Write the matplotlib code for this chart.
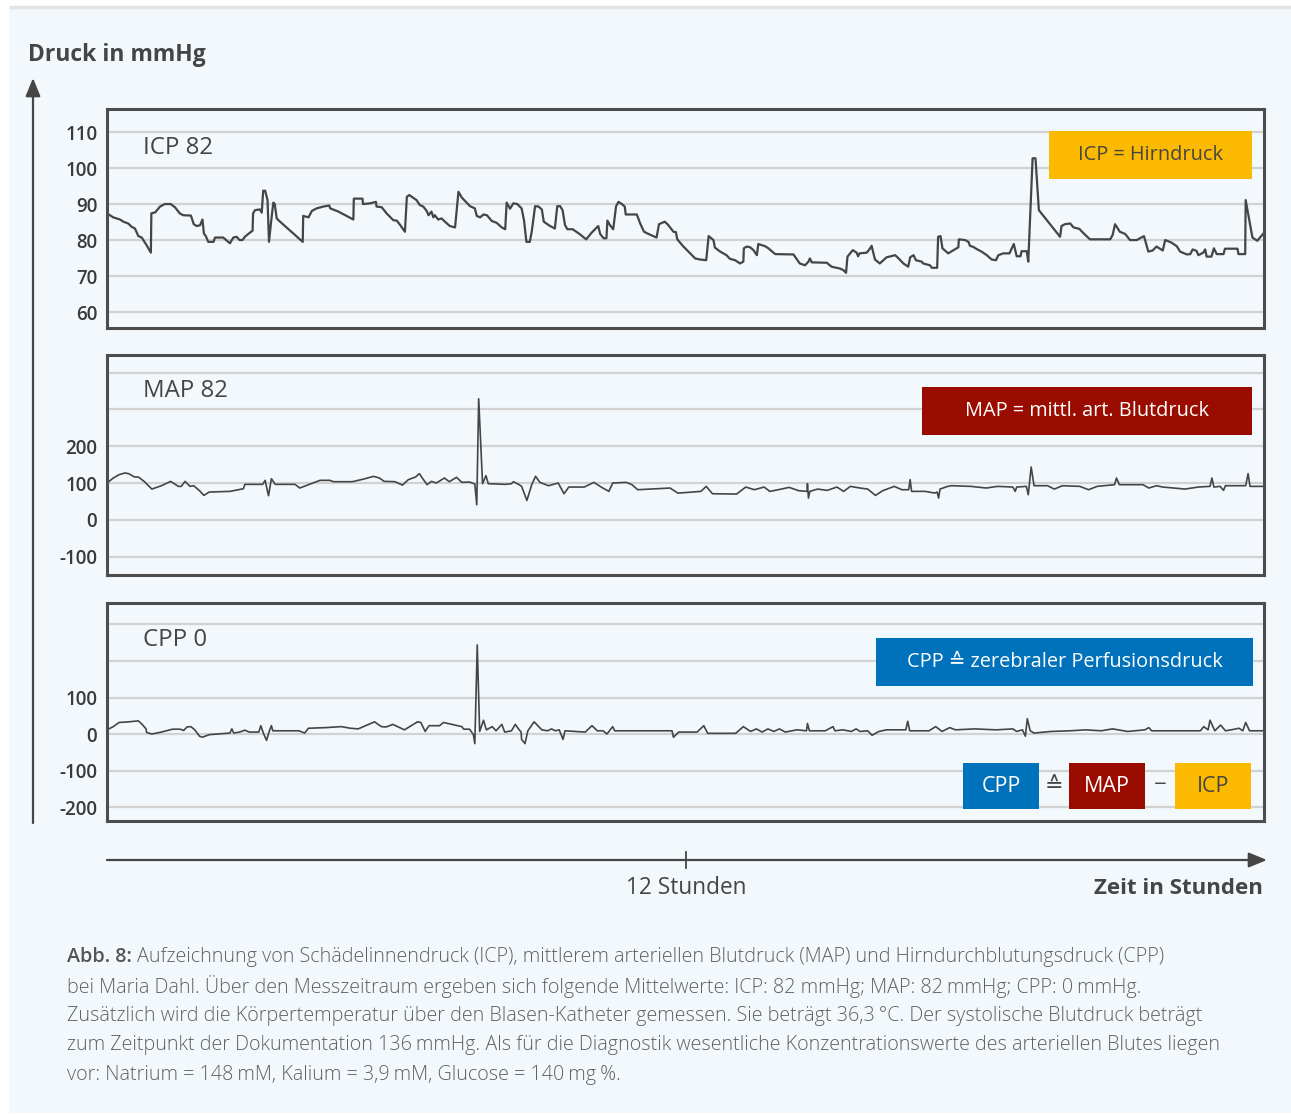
import matplotlib
matplotlib.use('Agg')
import matplotlib.pyplot as plt
from matplotlib.patches import Rectangle

plt.rcParams['font.family'] = ['Open Sans', 'DejaVu Sans']

W, H = 1291, 1115

# time axis in hours (0..24), pressures in mmHg
icp_t = [0.00, 0.13, 0.27, 0.34, 0.44, 0.51, 0.58, 0.65, 0.72, 0.82, 0.91, 0.92, 1.00, 1.10, 1.20, 1.32, 1.41, 1.51,
         1.58, 1.74, 1.80, 1.86, 1.93, 1.98, 2.01, 2.05, 2.10, 2.21, 2.24, 2.41, 2.55, 2.62, 2.69, 2.75, 2.81, 2.86,
         2.93, 3.02, 3.03, 3.07, 3.17, 3.21, 3.24, 3.28, 3.33, 3.36, 3.40, 3.45, 3.48, 3.52, 3.59, 4.06, 4.07, 4.18,
         4.25, 4.35, 4.49, 4.61, 4.63, 4.80, 4.97, 5.11, 5.12, 5.30, 5.31, 5.46, 5.58, 5.59, 5.70, 5.80, 5.94, 6.01,
         6.08, 6.18, 6.22, 6.27, 6.42, 6.49, 6.56, 6.63, 6.67, 6.73, 6.77, 6.80, 6.87, 6.94, 7.01, 7.11, 7.22, 7.29,
         7.36, 7.46, 7.53, 7.63, 7.67, 7.74,
         7.81, 7.88, 7.98, 8.08, 8.19, 8.26, 8.29, 8.36, 8.43, 8.51, 8.60, 8.65, 8.70, 8.77, 8.81, 8.88, 8.95, 9.02,
         9.06, 9.19, 9.29, 9.34, 9.40, 9.45, 9.50, 9.55, 9.66, 9.80, 9.94, 10.05, 10.19, 10.23, 10.30, 10.36, 10.38,
         10.43, 10.50, 10.56, 10.61, 10.68, 10.74, 10.76, 10.99, 11.06, 11.14, 11.23, 11.40, 11.45, 11.57, 11.64,
         11.75, 11.80, 11.83, 11.95, 12.06, 12.20, 12.30, 12.43, 12.48, 12.58, 12.61, 12.72, 12.85, 12.92, 13.03,
         13.13, 13.20, 13.21, 13.27, 13.34, 13.41, 13.48, 13.51, 13.65, 13.72, 13.86, 14.24, 14.37, 14.48, 14.55,
         14.58, 14.62, 14.93, 15.03, 15.20, 15.27, 15.33, 15.36, 15.47, 15.55, 15.58, 15.61,
         15.76, 15.83, 15.86, 15.93, 16.03, 16.17, 16.35, 16.42, 16.52, 16.62, 16.66, 16.73, 16.78, 16.90, 16.93,
         17.07, 17.11, 17.22, 17.24, 17.29, 17.33, 17.45, 17.56, 17.66, 17.67, 17.80, 17.87, 17.90, 17.97, 18.04,
         18.14, 18.25, 18.35, 18.44, 18.49, 18.59, 18.72, 18.81, 18.87, 18.95, 18.97, 19.08, 19.11, 19.20, 19.26,
         19.33, 19.77, 19.80, 19.87, 19.98, 20.05, 20.17, 20.27, 20.39, 20.81, 20.86, 20.91, 21.01, 21.12, 21.22,
         21.36, 21.51, 21.60, 21.69, 21.77, 21.90, 21.95, 22.08, 22.19, 22.26, 22.40, 22.47, 22.52, 22.60, 22.64,
         22.74, 22.78, 22.81, 22.91, 22.96, 23.02, 23.16, 23.19, 23.45, 23.47, 23.61, 23.62, 23.67, 23.76, 23.86,
         24.00]
icp_v = [87.5, 86.4, 85.8, 85.2, 84.7, 83.8, 83.3, 81.2, 80.8, 78.7, 76.6, 87.5, 87.8, 89.4, 90.1, 90.1, 89.2, 87.5,
         87.0, 86.9, 84.5, 84.0, 84.2, 85.8, 81.9, 81.2, 79.6, 79.6, 80.8, 80.8, 79.2, 80.8, 81.0, 80.1, 80.1, 81.0,
         81.8, 82.7, 87.5, 88.4, 88.6, 87.7, 93.8, 93.8, 91.2, 79.6, 84.7, 90.5, 90.1, 86.1, 85.2, 79.6, 86.8, 86.4,
         88.2, 88.9, 89.4, 89.7, 88.9, 88.0, 86.8, 85.8, 91.6, 91.6, 90.1, 90.3, 90.7, 89.4, 89.2, 87.5, 85.6, 85.5,
         84.3, 82.4, 92.1, 92.6, 91.2, 89.8, 89.4, 88.2, 87.0, 88.0, 86.4, 87.0, 85.8, 86.1, 85.2, 84.0, 83.6, 93.5,
         91.9, 90.5, 89.5, 88.9, 86.8, 86.4,
         87.2, 87.0, 85.4, 84.9, 83.6, 83.1, 90.5, 88.8, 90.3, 90.1, 88.9, 85.6, 79.6, 79.6, 82.4, 89.5, 89.4, 88.6,
         85.2, 84.0, 83.3, 89.5, 89.5, 88.4, 84.3, 83.1, 83.1, 81.8, 80.3, 82.1, 84.0, 81.8, 80.6, 80.6, 85.5,
         84.3, 83.1, 89.5, 90.7, 90.1, 89.4, 87.2, 87.2, 84.7, 82.4, 81.8, 80.8, 84.5, 85.2, 84.3,
         82.4, 82.3, 80.3, 78.4, 76.9, 75.0, 74.7, 74.5, 81.2, 80.1, 78.0, 76.9, 75.9, 74.9, 74.5,
         73.6, 74.1, 77.8, 78.3, 78.1, 77.3, 75.9, 79.0, 78.4, 77.8, 76.2, 76.1, 73.6, 73.1, 74.1,
         75.0, 73.9, 73.8, 72.7, 72.2, 71.8, 71.0, 75.5, 77.3, 76.6, 75.6, 76.4,
         76.6, 77.8, 78.5, 74.7, 73.6, 75.3, 75.9, 75.0, 73.6, 72.7, 75.3, 75.9, 74.5, 74.1, 73.6,
         73.1, 72.4, 72.4, 81.0, 81.2, 77.8, 76.4, 77.3, 78.1, 80.3, 80.1, 79.6, 78.5, 78.2, 77.6,
         76.9, 75.9, 74.7, 74.5, 75.9, 76.4, 76.4, 79.0, 75.6, 75.6, 77.0, 77.0, 74.1, 102.8, 102.8,
         88.4, 81.0, 84.0, 84.5, 84.7, 83.6, 83.2, 81.8, 80.3, 80.3, 81.5, 84.5, 82.4, 81.8, 80.1,
         80.1, 81.2, 76.9, 77.2, 78.3, 77.2, 80.1, 79.4, 78.4, 76.9, 76.1, 76.2, 77.5, 77.1, 75.9,
         76.6, 77.5, 75.5, 75.5, 77.8, 76.2, 76.2, 77.7, 77.7, 76.2, 76.2, 91.2, 87.5, 80.8, 79.9,
         82.1]

map_t = [0.00, 0.13, 0.25, 0.37, 0.45, 0.57, 0.65, 0.77, 0.93, 1.13, 1.32, 1.48, 1.54, 1.62, 1.72, 1.80, 1.92, 2.01,
         2.12, 2.55, 2.83, 2.86, 3.23, 3.28, 3.35, 3.41, 3.49, 3.90, 4.00, 4.18, 4.42, 4.62, 4.70, 5.09, 5.33, 5.53,
         5.65, 5.75, 5.97, 6.13, 6.25, 6.40, 6.48, 6.54, 6.64, 6.73, 6.83, 7.00, 7.10, 7.25, 7.36, 7.52, 7.63, 7.67,
         7.71, 7.79, 7.86, 7.91, 8.27, 8.39, 8.43, 8.55, 8.60, 8.71, 8.81, 8.89, 8.98, 9.16, 9.36, 9.48, 9.58, 9.90,
         10.10, 10.25, 10.41, 10.49, 10.77, 10.89, 11.01, 11.68, 11.84,
         12.05, 12.32, 12.43, 12.56, 13.06, 13.25, 13.43, 13.63, 13.75, 13.99, 14.15, 14.35, 14.52, 14.53, 14.55,
         14.58, 14.74, 14.94, 15.14, 15.28, 15.42, 15.62, 15.78, 15.94, 16.09, 16.33, 16.49, 16.63, 16.66, 16.69,
         16.97, 17.17, 17.22, 17.25, 17.28, 17.44, 17.52, 17.92, 18.24, 18.47, 18.79, 18.84, 18.87, 19.07, 19.11,
         19.17, 19.23, 19.51, 19.65, 19.82, 20.18, 20.36, 20.54, 20.90, 20.94, 21.00, 21.49, 21.61, 21.77, 21.90,
         22.36, 22.64, 22.88, 22.92, 22.96, 23.09, 23.16, 23.20, 23.62, 23.67, 23.71, 24.00]
map_v = [100, 113.6, 122.7, 127.3, 125.5, 116.4, 116.4, 104.5, 83.6, 92.7, 104.5, 90.9, 90.9, 104.5, 90.9, 92.7, 79.1,
         66.4, 75.5, 77.3, 84.5, 96.4, 96.4, 107.3, 65.5, 111.8, 96.4, 96.4, 86.4, 95.5, 107.3, 107.3, 103.6, 103.6,
         110.9, 118.2, 113.6, 104.5, 103.6, 94.5, 109.1, 116.4, 125.5, 113.6, 95.5, 104.5, 100, 113.6, 103.6, 115.5,
         101.8, 102.7, 97.3, 40.9, 329.1, 98.2, 120, 98.2, 96.4, 98.2, 103.6, 95.5, 90.9, 52.7, 95.5, 118.2, 101.8,
         92.7, 100, 70.9, 89.1, 89.1, 101.8, 89.1, 77.3, 100, 101.8, 95.5, 81.8, 86.4, 72.7,
         74.5, 77.3, 90.9, 70.9, 70, 89.1, 81.8, 89.1, 77.3, 83.6, 88.2, 79.1, 77.3, 98.2, 59.1,
         77.3, 83.6, 80, 89.1, 77.3, 90.9, 86.4, 83.6, 66.4, 79.1, 90.9, 81.8, 81.8, 109.1, 77.3,
         77.3, 72.7, 75.5, 59.1, 83.6, 90.9, 92.7, 90.9, 86.4, 90.9, 89.1, 77.3, 89.1, 90.9, 68.2,
         143.6, 92.7, 92.7, 83.6, 92.7, 90.9, 81.8, 90.9, 95.5, 113.6, 95.5, 95.5, 86.4, 92.7, 89.1,
         83.6, 89.1, 90.9, 113.6, 89.1, 90.9, 80, 92.7, 92.7, 125.5, 90.9, 90.9]

cpp_t = [0.00, 0.13, 0.25, 0.45, 0.65, 0.73, 0.81, 0.82, 0.93, 1.13, 1.36, 1.52, 1.59, 1.66, 1.74, 1.82, 1.92, 1.98,
         2.12, 2.55, 2.59, 2.63, 2.75, 2.86, 2.95, 3.15, 3.19, 3.25, 3.31, 3.36, 3.41, 3.44, 3.98, 4.10, 4.18, 4.54,
         4.86, 5.05, 5.21, 5.55, 5.69, 5.79, 5.93, 6.17, 6.44, 6.51, 6.60, 6.68, 6.90, 6.98, 7.16, 7.36, 7.40, 7.52,
         7.60, 7.63, 7.68, 7.73, 7.81, 7.87, 7.99, 8.07, 8.19, 8.25, 8.39, 8.47, 8.55, 8.59, 8.60, 8.67, 8.73, 8.86,
         9.02, 9.14, 9.22, 9.30, 9.38, 9.46, 9.50, 9.92, 10.06, 10.17, 10.29, 10.37, 10.49, 10.53, 11.72, 11.75, 11.86,
         12.24, 12.38, 12.46, 13.04, 13.20, 13.35, 13.47, 13.59, 13.71, 13.83, 13.95, 14.07, 14.31, 14.51, 14.53,
         14.57, 14.74, 14.90, 15.06, 15.10, 15.26, 15.44, 15.54, 15.62, 15.78, 15.87, 16.01, 16.17, 16.57, 16.61,
         16.65, 17.05, 17.19, 17.32, 17.48, 17.60, 18.00, 18.44, 18.79, 18.87, 18.99, 19.05, 19.09, 19.15, 19.23,
         19.59, 19.98, 20.30, 20.62, 20.86, 21.17, 21.53, 21.61, 21.67, 22.68, 22.75, 22.84, 22.88, 22.98, 23.10,
         23.20, 23.32, 23.48, 23.56, 23.62, 23.70, 24.00]
cpp_v = [11.4, 20.2, 31.6, 33.3, 36, 26.3, 14, 4.4, 0, 5.3, 13.2, 13.2, 9.6, 19.3, 20.2, 11.4, -6.1, -8.8,
         -1.8, 2.6, 14, 2.6, 5.3, 10.5, 5.3, 5.3, 22.8, 0, -17.5, 5.3, 22.8, 8.8, 8.8, 2.6, 15.8, 17.5,
         20.2, 15.8, 14, 33.3, 20.2, 19.3, 26.3, 11.4, 33.3, 31.6, 7, 22.8, 22.8, 31.6, 26.3, 20.2, 13.2, 13.2,
         -1.8, -26.3, 243.9, 7, 37.7, 11.4, 20.2, 8.8, 26.3, 5.3, 8.8, 26.3, 11.4, 5.3, -14.9, -26.3, 8.8, 33.3,
         11.4, 8.8, 14, 8.8, 11.4, -14.9, 8.8, 5.3, 22.8, 8.8, 8.8, 0, 20.2, 8.8, 8.8, -8.8, 5.3,
         5.3, 22.8, 1.8, 1.8, 20.2, 7, 14, 5.3, 14, 7, 14, 5.3, 11.4, 8.8, 28.9,
         8.8, 8.8, 8.8, 20.2, 8.8, 11.4, 7, 14, 7, 8.8, -3.5, 7, 11.4, 11.4, 35,
         8.8, 8.8, 20.2, 7, 17.5, 11.4, 14, 11.4, 14, 7, 11.4, -6.1, 42, 8.8, 2.6,
         7, 8.8, 11.4, 8.8, 14, 7, 11.4, 17.5, 8.8, 8.8, 20.2, 11.4, 37.7, 8.8, 24.6,
         8.8, 11.4, 15.8, 8.8, 31.6, 8.8, 8.8]

icp_ticks = [60, 70, 80, 90, 100, 110]
icp_labels = ['60', '70', '80', '90', '100', '110']
map_ticks = [-100, 0, 100, 200, 300, 400]
map_labels = ['-100', '0', '100', '200', '', '']
cpp_ticks = [-200, -100, 0, 100, 200, 300]
cpp_labels = ['-200', '-100', '0', '100', '', '']

BG = '#f2f8fc'
DARK = '#454545'
YELLOW = '#fbb900'
RED = '#9b0c00'
BLUE = '#0072bc'


def fx(px):
    return px / W


def fy(py):
    return 1 - py / H


fig = plt.figure(figsize=(W / 100, H / 100), dpi=100, facecolor='white')

# background layer in pixel coordinates
bg = fig.add_axes([0, 0, 1, 1], zorder=-1)
bg.set_xlim(0, W)
bg.set_ylim(H, 0)
bg.axis('off')
bg.add_patch(Rectangle((9, 9), W - 9, 1104, facecolor=BG, edgecolor='none'))
bg.plot([9, W], [7, 7], color='#e3e3e3', lw=2.5, solid_capstyle='butt')

# axis arrows
bg.annotate('', xy=(33, 78), xytext=(33, 823),
            arrowprops=dict(arrowstyle='-|>,head_length=1.1,head_width=0.45', color=DARK, lw=1.6,
                            shrinkA=0, shrinkB=0))
bg.annotate('', xy=(1267, 860), xytext=(107, 860),
            arrowprops=dict(arrowstyle='-|>,head_length=1.1,head_width=0.45', color=DARK, lw=1.6,
                            shrinkA=0, shrinkB=0))
bg.plot([686, 686], [852, 868], color=DARK, lw=1.3)
bg.text(28, 55, 'Druck in mmHg', fontsize=16.5, fontweight='bold', color=DARK, ha='left', va='center')
bg.text(686, 888, '12 Stunden', fontsize=16.3, color=DARK, ha='center', va='center')
bg.text(1263, 888, 'Zeit in Stunden', fontsize=16, fontweight='bold', color=DARK, ha='right', va='center')

# caption
cap_color = '#606060'
cap_size = 14.2
cap_lines = [
    'Aufzeichnung von Schädelinnendruck (ICP), mittlerem arteriellen Blutdruck (MAP) und Hirndurchblutungsdruck (CPP)',
    'bei Maria Dahl. Über den Messzeitraum ergeben sich folgende Mittelwerte: ICP: 82 mmHg; MAP: 82\u2009mmHg; CPP: 0\u2009mmHg.',
    'Zusätzlich wird die Körpertemperatur über den Blasen-Katheter gemessen. Sie beträgt 36,3\u2009°C. Der systolische Blutdruck beträgt',
    'zum Zeitpunkt der Dokumentation 136\u2009mmHg. Als für die Diagnostik wesentliche Konzentrationswerte des arteriellen Blutes liegen',
    'vor: Natrium = 148\u2009mM, Kalium = 3,9\u2009mM, Glucose = 140\u2009mg\u2009%.',
]
cap_y = [957, 987, 1016, 1045, 1075]
head = bg.text(67, cap_y[0], 'Abb. 8:', fontsize=cap_size, fontweight='semibold', color='#555555',
               ha='left', va='center')
renderer = fig.canvas.get_renderer()
hb = head.get_window_extent(renderer)
bg.text(hb.x1 + 5, cap_y[0], cap_lines[0], fontsize=cap_size, fontweight='light', color=cap_color,
        ha='left', va='center')
for line, y in zip(cap_lines[1:], cap_y[1:]):
    bg.text(67, y, line, fontsize=cap_size, fontweight='light', color=cap_color, ha='left', va='center')

# the three panels
panels = [
    ([fx(107), fy(328.3), fx(1264) - fx(107), fy(109.3) - fy(328.3)], (55.6, 116.4),
     icp_t, icp_v, icp_ticks, icp_labels, 'ICP 82', 148, 1.6),
    ([fx(107), fy(575), fx(1264) - fx(107), fy(355) - fy(575)], (-150, 448),
     map_t, map_v, map_ticks, map_labels, 'MAP 82', 391, 1.2),
    ([fx(107), fy(820.7), fx(1264) - fx(107), fy(602.7) - fy(820.7)], (-237.5, 359.7),
     cpp_t, cpp_v, cpp_ticks, cpp_labels, 'CPP 0', 640, 1.2),
]

axes = []
for rect, ylim, t, v, ticks, labels, title, ty, lw in panels:
    ax = fig.add_axes(rect)
    ax.set_facecolor('none')
    ax.plot(t, v, color=DARK, lw=lw, zorder=2)
    ax.set_xlim(0, 24)
    ax.set_ylim(*ylim)
    ax.set_xticks([])
    ax.set_yticks(ticks)
    ax.set_yticklabels(labels)
    ax.tick_params(axis='y', length=0, pad=7, labelsize=13.5, labelcolor='#3a3a3a')
    for lab in ax.get_yticklabels():
        lab.set_fontweight('semibold')
    ax.grid(axis='y', color='#d2d2d2', lw=1.6)
    ax.set_axisbelow(True)
    for s in ax.spines.values():
        s.set_color('#4d4d4d')
        s.set_linewidth(2.2)
    ax.text(fx(143), fy(ty), title, transform=fig.transFigure, fontsize=17.3, color=DARK,
            ha='left', va='center')
    axes.append(ax)


def label_box(ax, x0, y0, x1, y1, color, text, tcolor, size=14.3):
    ax.add_patch(Rectangle((fx(x0), fy(y1)), fx(x1) - fx(x0), fy(y0) - fy(y1), transform=fig.transFigure,
                           facecolor=color, edgecolor='none', zorder=3))
    ax.text(fx((x0 + x1) / 2), fy((y0 + y1) / 2), text, transform=fig.transFigure, fontsize=size,
            color=tcolor, ha='center', va='center', zorder=4)


label_box(axes[0], 1049, 131, 1252, 179, YELLOW, 'ICP = Hirndruck', DARK)
label_box(axes[1], 922, 387, 1252, 435, RED, 'MAP = mittl. art. Blutdruck', 'white')
label_box(axes[2], 876, 638, 1253, 686, BLUE, 'CPP \u2259 zerebraler Perfusionsdruck', 'white')
label_box(axes[2], 963, 763, 1039, 809, BLUE, 'CPP', 'white', 15.5)
label_box(axes[2], 1069, 763, 1145, 809, RED, 'MAP', 'white', 15.5)
label_box(axes[2], 1175, 763, 1251, 809, YELLOW, 'ICP', DARK, 15.5)
axes[2].text(fx(1054), fy(786), '\u2259', transform=fig.transFigure, fontsize=16, color=DARK,
             ha='center', va='center', zorder=4)
axes[2].text(fx(1160), fy(786), '\u2212', transform=fig.transFigure, fontsize=16, color=DARK,
             ha='center', va='center', zorder=4)

fig.savefig('out.png', dpi=100, facecolor='white')
